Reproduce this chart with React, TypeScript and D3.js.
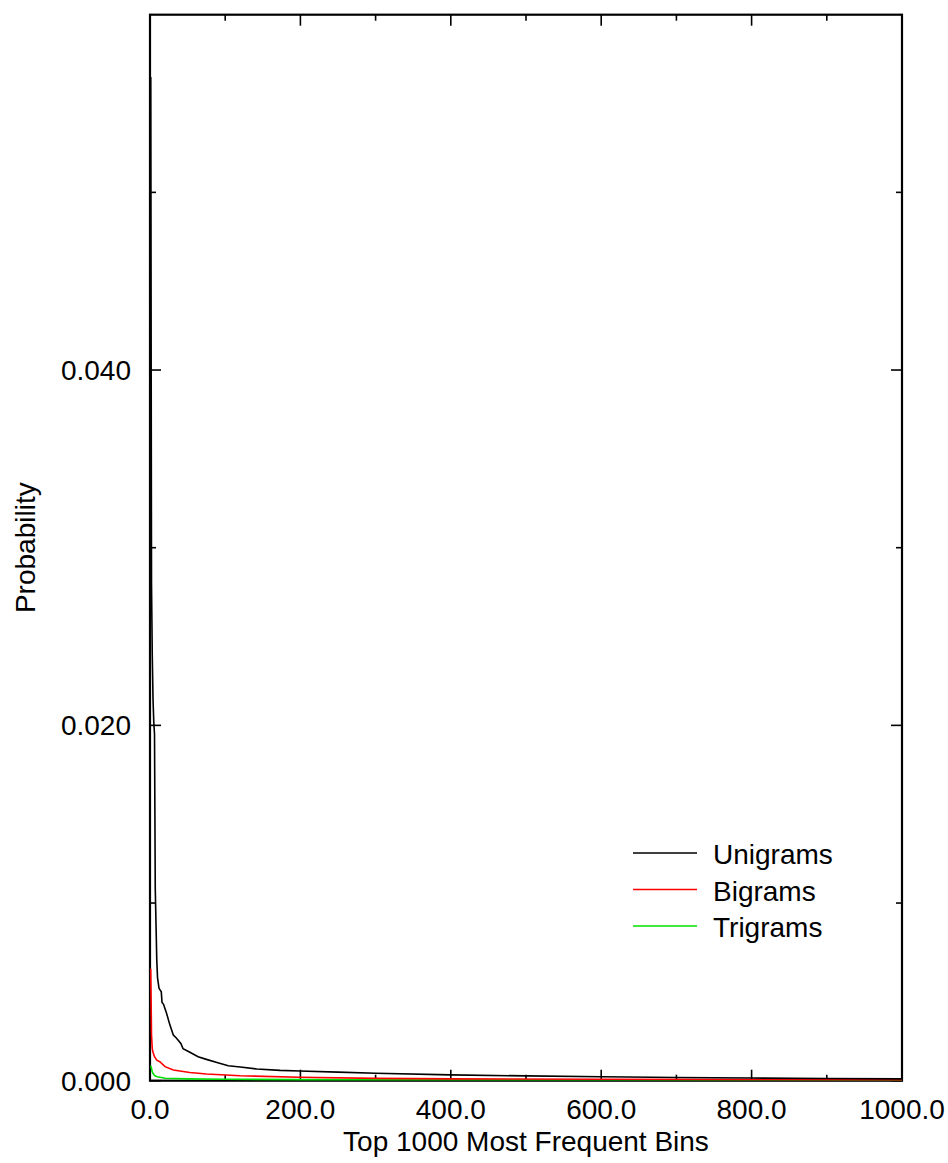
import React from 'react';
import * as d3 from 'd3';

const W = 948;
const H = 1163;
const FONT = '"Liberation Sans", Arial, sans-serif';

// ranks (x) and probabilities (y)
const uniRank = [1, 2, 3, 4, 5, 6, 7, 8, 9, 10, 12, 15, 16, 18, 22, 26, 31, 35, 41, 44, 53, 64, 75, 89, 104, 120, 142, 173, 199, 250, 300, 400, 500, 600, 700, 800, 900, 1000];
const uniProb = [0.0565, 0.028, 0.024, 0.0215, 0.0202, 0.0195, 0.0108, 0.0088, 0.0068, 0.0058, 0.0052, 0.0050, 0.0044, 0.0043, 0.0038, 0.0032, 0.00257, 0.0024, 0.0021, 0.0018, 0.0016, 0.00135, 0.0012, 0.00103, 0.00084, 0.00077, 0.00066, 0.00058, 0.00055, 0.00048, 0.00042, 0.00033, 0.00027, 0.00022, 0.00018, 0.00015, 0.00012, 0.0001];

const biRank = [1, 2, 3, 4, 6, 9, 13, 20, 31, 53, 75, 120, 199, 300, 400, 600, 800, 1000];
const biProb = [0.0063, 0.0026, 0.0018, 0.0016, 0.00135, 0.00116, 0.00107, 0.00079, 0.0006, 0.00046, 0.00038, 0.00028, 0.00019, 0.00013, 0.0001, 0.00008, 0.00007, 0.00006];

const triRank = [1, 2, 3, 4, 5, 7, 10, 20, 50, 100, 200, 500, 1000];
const triProb = [0.00085, 0.0007, 0.0005, 0.00042, 0.00035, 0.00026, 0.00022, 0.00014, 0.0001, 0.00008, 0.00006, 0.00005, 0.00005];

const seriesNames = ['Unigrams', 'Bigrams', 'Trigrams'];
const seriesColors = ['#000000', '#ff0000', '#00e000'];

const xMajor = [0, 200, 400, 600, 800, 1000];
const xMinor = [100, 300, 500, 700, 900];
const yMajor = [0, 0.02, 0.04];
const yMinor = [0.01, 0.03, 0.05];

const left = 150, right = 902, top = 14.7, bottom = 1080.7;

export default function App() {
  const x = d3.scaleLinear().domain([0, 1000]).range([left, right]);
  const y = d3.scaleLinear().domain([0, 0.06]).range([bottom, top]);

  const series = [
    uniRank.map((r, i) => [r, uniProb[i]] as [number, number]),
    biRank.map((r, i) => [r, biProb[i]] as [number, number]),
    triRank.map((r, i) => [r, triProb[i]] as [number, number]),
  ];
  const line = d3.line<[number, number]>().x(d => x(d[0])).y(d => y(d[1]));

  const majLen = 11, minLen = 6;

  return (
    <svg width={W} height={H} style={{ position: 'absolute', left: 0, top: 0, background: '#fff' }}>
      {/* ticks on all four sides, pointing inward */}
      <g stroke="#000" strokeWidth={1.6}>
        {xMajor.map(v => (
          <g key={'xm' + v}>
            <line x1={x(v)} x2={x(v)} y1={bottom} y2={bottom - majLen} />
            <line x1={x(v)} x2={x(v)} y1={top} y2={top + majLen} />
          </g>
        ))}
        {xMinor.map(v => (
          <g key={'xn' + v}>
            <line x1={x(v)} x2={x(v)} y1={bottom} y2={bottom - minLen} />
            <line x1={x(v)} x2={x(v)} y1={top} y2={top + minLen} />
          </g>
        ))}
        {yMajor.map(v => (
          <g key={'ym' + v}>
            <line x1={left} x2={left + majLen} y1={y(v)} y2={y(v)} />
            <line x1={right} x2={right - majLen} y1={y(v)} y2={y(v)} />
          </g>
        ))}
        {yMinor.map(v => (
          <g key={'yn' + v}>
            <line x1={left} x2={left + minLen} y1={y(v)} y2={y(v)} />
            <line x1={right} x2={right - minLen} y1={y(v)} y2={y(v)} />
          </g>
        ))}
      </g>

      {/* frame */}
      <rect x={left} y={top} width={right - left} height={bottom - top} fill="none" stroke="#000" strokeWidth={2.2} />

      {/* curves, drawn back to front over the frame */}
      {[2, 1, 0].map(i => (
        <path key={i} d={line(series[i]) || ''} fill="none" stroke={seriesColors[i]} strokeWidth={1.6} />
      ))}

      {/* tick labels and titles */}
      <g fontFamily={FONT} fontSize={28} fill="#000">
        {xMajor.map(v => (
          <text key={'xl' + v} x={x(v)} y={bottom + 38} textAnchor="middle">{d3.format('.1f')(v)}</text>
        ))}
        {yMajor.map(v => (
          <text key={'yl' + v} x={left - 19} y={y(v) + 10} textAnchor="end">{d3.format('.3f')(v)}</text>
        ))}
        <text x={(left + right) / 2} y={1151} textAnchor="middle">Top 1000 Most Frequent Bins</text>
        <text transform={`translate(35, ${(top + bottom) / 2}) rotate(-90)`} textAnchor="middle">Probability</text>
      </g>

      {/* legend */}
      <g fontFamily={FONT} fontSize={28}>
        {seriesNames.map((n, i) => (
          <g key={n} transform={`translate(633, ${853 + i * 36.5})`}>
            <line x1={0} x2={64} y1={0} y2={0} stroke={seriesColors[i]} strokeWidth={1.6} />
            <text x={80} y={11}>{n}</text>
          </g>
        ))}
      </g>
    </svg>
  );
}
